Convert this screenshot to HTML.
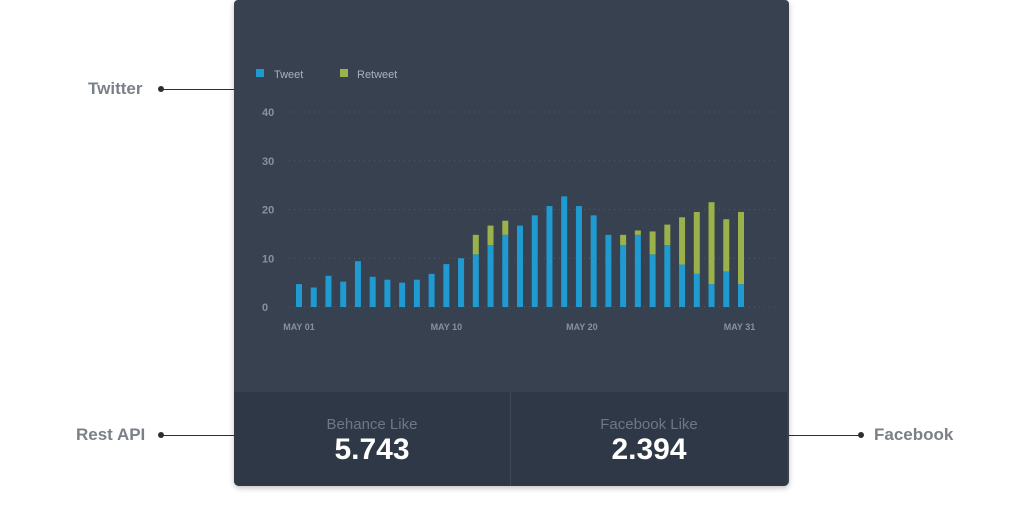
<!DOCTYPE html>
<html><head><meta charset="utf-8"><style>
body{margin:0;width:1024px;height:506px;background:#fff;position:relative;font-family:"Liberation Sans",sans-serif;overflow:hidden}
.lbl{position:absolute;font-size:17px;font-weight:bold;color:#7b8088}
.ln{position:absolute;height:1px;background:#2a2f36}
.dot{position:absolute;width:6px;height:6px;border-radius:50%;background:#2a2f36}
#card{position:absolute;left:234px;top:0;width:555px;height:486px;background:#37414f;border-radius:4px 4px 5px 5px;overflow:hidden;box-shadow:0 2px 6px rgba(0,0,0,.25)}
.stat{position:absolute;top:392px;height:94px;width:276px;background:#2f3846;text-align:center}
.stat .t{margin-top:24px;font-size:15px;color:#6c7886}
.stat .v{font-size:30px;font-weight:bold;color:#fff;margin-top:0px}
</style></head><body>
<div class="lbl" style="left:88px;top:79px">Twitter</div>
<div class="dot" style="left:158px;top:86px"></div>
<div class="ln" style="left:161px;top:89px;width:74px"></div>
<div class="lbl" style="left:76px;top:425px">Rest API</div>
<div class="dot" style="left:158px;top:432px"></div>
<div class="ln" style="left:161px;top:435px;width:74px"></div>
<div class="ln" style="left:789px;top:435px;width:72px"></div>
<div class="dot" style="left:858px;top:432px"></div>
<div class="lbl" style="left:874px;top:425px">Facebook</div>
<div id="card">
<svg id="chart" width="555" height="392" style="position:absolute;left:0;top:0"></svg>
<div class="stat" style="left:0"><div class="t">Behance Like</div><div class="v">5.743</div></div>
<div class="stat" style="left:277px"><div class="t">Facebook Like</div><div class="v">2.394</div></div>
<div style="position:absolute;left:276px;top:392px;width:1px;height:94px;background:#3d4756"></div>
</div>
<script>
const days=[1,2,3,4,5,6,7,8,9,10,11,12,13,14,15,16,17,18,19,20,21,22,23,24,25,26,27,28,29,30,31];
const tweet=[4.7,4,6.4,5.2,9.4,6.2,5.6,5,5.6,6.8,8.8,10,10.8,12.7,14.8,16.7,18.8,20.7,22.7,20.7,18.8,14.8,12.7,14.8,10.8,12.7,8.7,6.8,4.7,7.3,4.7];
const retweet=[0,0,0,0,0,0,0,0,0,0,0,0,4,4,2.9,0,0,0,0,0,0,0,2.1,0.9,4.7,4.2,9.7,12.7,16.8,10.7,14.8];
const yTicks=[0,10,20,30,40];
const xTickDays=[1,11,20.2,30.9];
const xTickLabels=["MAY 01","MAY 10","MAY 20","MAY 31"];
const NS="http://www.w3.org/2000/svg";
const svg=document.getElementById('chart');
const x0=65,x1=507,yBase=307,yTop=112;
const xs=d=>x0+(d-1)*(x1-x0)/30;
const ys=v=>yBase-(v/40)*(yBase-yTop);
function mk(t,a){const e=document.createElementNS(NS,t);for(const k in a)e.setAttribute(k,a[k]);svg.appendChild(e);return e;}
yTicks.forEach(t=>{
 const g=mk('line',{x1:55,x2:545,y1:ys(t),y2:ys(t),stroke:'#4e5968','stroke-dasharray':'1 4'});
 
 
 const tx=mk('text',{x:28,y:ys(t)+4,fill:'#8792a0','font-size':11,'font-weight':'bold','font-family':'Liberation Sans, sans-serif'});
 tx.textContent=t;
 
 
});
days.forEach((d,i)=>{
 const bx=xs(d)-3;
 const b=mk('rect',{x:bx,y:ys(tweet[i]),width:6,height:yBase-ys(tweet[i]),fill:'#1f9bd1'});
 
 
 if(retweet[i]>0){
  const r=mk('rect',{x:bx,y:ys(tweet[i]+retweet[i]),width:6,height:ys(tweet[i])-ys(tweet[i]+retweet[i]),fill:'#9bb24b'});
  
  
 }
});
xTickDays.forEach((d,i)=>{
 const tx=mk('text',{x:xs(d),y:330,fill:'#8792a0','font-size':9,'font-weight':'bold','text-anchor':'middle','font-family':'Liberation Sans, sans-serif'});
 tx.textContent=xTickLabels[i];
 
 
});
const l1=mk('rect',{x:22,y:69,width:8,height:8,fill:'#1f9bd1'});


const lt1=mk('text',{x:40,y:78,fill:'#a9b2bd','font-size':11,'font-family':'Liberation Sans, sans-serif'});lt1.textContent='Tweet';


const l2=mk('rect',{x:106,y:69,width:8,height:8,fill:'#9bb24b'});


const lt2=mk('text',{x:123,y:78,fill:'#a9b2bd','font-size':11,'font-family':'Liberation Sans, sans-serif'});lt2.textContent='Retweet';


</script>
</body></html>
